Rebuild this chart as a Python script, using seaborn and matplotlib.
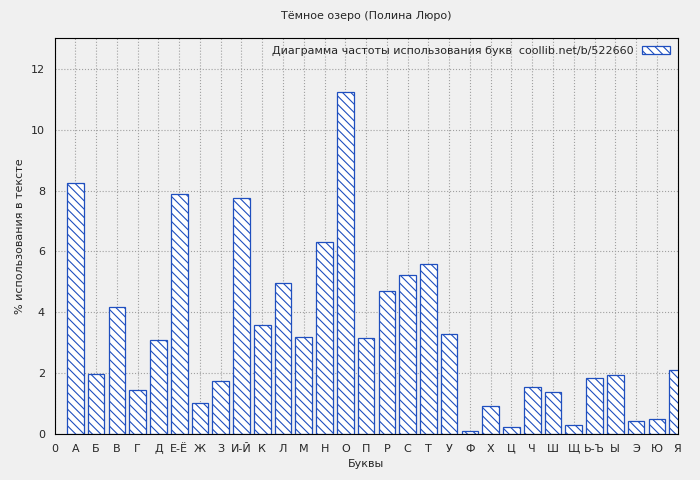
import matplotlib
matplotlib.use("Agg")
import matplotlib.pyplot as plt
import seaborn as sns
import pandas as pd

letters = ["А", "Б", "В", "Г", "Д", "Е-Ё", "Ж", "З", "И-Й", "К", "Л", "М", "Н", "О", "П",
           "Р", "С", "Т", "У", "Ф", "Х", "Ц", "Ч", "Ш", "Щ", "Ь-Ъ", "Ы", "Э", "Ю", "Я"]
percent = [8.26, 1.97, 4.18, 1.45, 3.09, 7.89, 1.02, 1.74, 7.76, 3.59, 4.97, 3.19, 6.32, 11.25, 3.16,
           4.70, 5.23, 5.59, 3.29, 0.10, 0.92, 0.23, 1.55, 1.38, 0.30, 1.84, 1.94, 0.43, 0.49, 2.10]

df = pd.DataFrame({"pos": range(1, len(letters) + 1), "val": percent})

sns.set_style("whitegrid")
plt.rcParams["font.family"] = ["DejaVu Sans"]
plt.rcParams["hatch.color"] = "#1f4fbf"
plt.rcParams["hatch.linewidth"] = 0.8

fig = plt.figure(figsize=(7, 4.8), dpi=100, facecolor="#f0f0f0")
ax = fig.add_axes([0.078, 0.096, 0.89, 0.824])
ax.set_facecolor("#f0f0f0")

ax.bar(df["pos"], df["val"], width=0.8, color="white", edgecolor="#1f4fbf",
       hatch="\\\\\\\\", linewidth=0.9,
       label="Диаграмма частоты использования букв  coollib.net/b/522660")

ax.set_xlim(0, 30)
ax.set_ylim(0, 13)
ax.set_xticks(range(0, 31))
ax.set_xticklabels(["0"] + letters, fontsize=8)
ax.set_yticks(range(0, 13, 2))
ax.tick_params(axis="y", labelsize=8)
ax.grid(True, color="#a0a0a0", linestyle=":", linewidth=0.8)
for s in ax.spines.values():
    s.set_color("black")
    s.set_linewidth(0.8)
ax.set_xlabel("Буквы", fontsize=8)
ax.set_ylabel("% использования в тексте", fontsize=8)
ax.set_title("Тёмное озеро (Полина Люро)", fontsize=8, pad=14)
leg = ax.legend(loc="upper right", fontsize=8, frameon=False, markerfirst=False,
                handlelength=2.5, borderaxespad=0.3)

fig.savefig("out.png", facecolor=fig.get_facecolor())
